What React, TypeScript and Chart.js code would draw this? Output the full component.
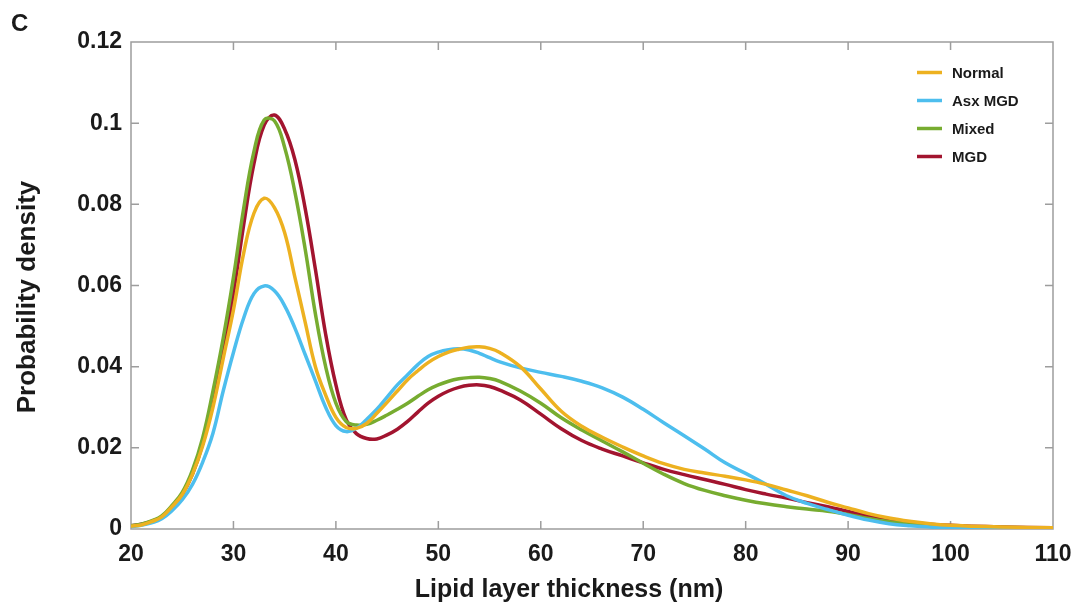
import { useEffect, useRef } from "react";
import { Chart, registerables } from "chart.js";

Chart.register(...registerables);

const xValues = [
  20, 21, 22, 23, 24, 25, 26, 27, 28, 29, 30, 31, 32, 33, 34, 35, 36, 37, 38, 39, 40,
  41, 42, 43, 44, 45, 46, 47, 48, 49, 50, 51, 52, 53, 54, 55, 56,
  58, 60, 62, 64, 66, 68, 70, 72, 74, 76, 78, 80, 82, 84, 86, 88, 90,
  92, 94, 96, 98, 100, 102, 105, 110,
];

const normal = [
  0.0007, 0.001, 0.0018, 0.003, 0.0055, 0.0085, 0.0135, 0.0205, 0.03, 0.042, 0.054, 0.068, 0.0778, 0.0815, 0.0792, 0.073, 0.062, 0.051, 0.04, 0.033, 0.0275,
  0.025, 0.0248, 0.026, 0.0285, 0.0312, 0.034, 0.0368, 0.039, 0.041, 0.0425, 0.0436, 0.0443, 0.0448, 0.0449, 0.0445, 0.0435,
  0.04, 0.0345, 0.029, 0.0253, 0.0226, 0.0202, 0.018, 0.0161, 0.0147, 0.0138, 0.013, 0.0121, 0.011, 0.0096, 0.0082, 0.0066, 0.0052,
  0.0038, 0.0027, 0.0019, 0.0013, 0.0009, 0.0007, 0.0005, 0.0003,
];

const asxMgd = [
  0.0006, 0.0009, 0.0015, 0.0025, 0.0045, 0.0072, 0.011, 0.0165, 0.0236, 0.034, 0.0435, 0.052, 0.058, 0.0599, 0.0587, 0.055, 0.0495, 0.043, 0.0365, 0.03, 0.0255,
  0.024, 0.0248, 0.027, 0.0295, 0.0325, 0.0355, 0.038, 0.0405, 0.0425, 0.0436, 0.0442, 0.0444, 0.0441, 0.0433, 0.0422, 0.0412,
  0.0397, 0.0386, 0.0376, 0.0364, 0.0348, 0.0325, 0.0295, 0.0262, 0.023, 0.0197, 0.0163, 0.0137, 0.011, 0.0082, 0.0063, 0.0048, 0.0034,
  0.0022, 0.0013, 0.0008, 0.0005, 0.0003, 0.0002, 0.0002, 0.0001,
];

const mixed = [
  0.0008, 0.0012, 0.002, 0.0032, 0.0058, 0.009, 0.0145, 0.0225, 0.034, 0.047, 0.062, 0.079, 0.093, 0.1008, 0.1006, 0.094, 0.083, 0.069, 0.053, 0.04, 0.031,
  0.0265, 0.0256, 0.0258, 0.0268, 0.0281, 0.0295, 0.031, 0.0327, 0.0343, 0.0355, 0.0364, 0.037, 0.0373, 0.0374, 0.0371, 0.0364,
  0.034, 0.031, 0.0274, 0.0244, 0.0217, 0.019, 0.0162, 0.0135, 0.0112, 0.0095, 0.0082, 0.0071, 0.0062, 0.0055, 0.0049, 0.0044, 0.0036,
  0.0026, 0.0018, 0.0013, 0.0009, 0.0007, 0.0005, 0.0004, 0.0002,
];

const mgd = [
  0.0008, 0.0012, 0.0019, 0.003, 0.0055, 0.0085, 0.0135, 0.021, 0.0318, 0.044, 0.058, 0.075, 0.09, 0.0995, 0.102, 0.0985, 0.091, 0.079, 0.064, 0.048, 0.0355,
  0.027, 0.0235, 0.0223, 0.0222, 0.0232, 0.0246, 0.0265, 0.0288, 0.031, 0.0327, 0.034, 0.0349, 0.0354, 0.0355, 0.0351, 0.0342,
  0.0318, 0.0283, 0.0247, 0.0218, 0.0197, 0.018, 0.0163, 0.0147, 0.0134, 0.0122, 0.011, 0.0097, 0.0086, 0.0076, 0.0065, 0.0055, 0.0043,
  0.0032, 0.0023, 0.0016, 0.0012, 0.0009, 0.0007, 0.0005, 0.0003,
];

const seriesLabels = ["Normal", "Asx MGD", "Mixed", "MGD"];
const seriesColors = ["#EDB120", "#4DBEEE", "#77AC30", "#A2142F"];
const seriesValues = [normal, asxMgd, mixed, mgd];

const xTickValues = [20, 30, 40, 50, 60, 70, 80, 90, 100, 110];
const yTickValues = [0, 0.02, 0.04, 0.06, 0.08, 0.1, 0.12];
const yTickLabels = ["0", "0.02", "0.04", "0.06", "0.08", "0.1", "0.12"];

const panelLabel = "C";
const xTitle = "Lipid layer thickness (nm)";
const yTitle = "Probability density";

const FONT = "'Liberation Sans', Arial, sans-serif";
const FRAME = "#9d9d9d";
const TEXT = "#1a1a1a";

const framePlugin = {
  id: "frame",
  beforeDatasetsDraw(chart: any) {
    const { ctx, chartArea: a, scales } = chart;
    ctx.save();
    ctx.strokeStyle = FRAME;
    ctx.lineWidth = 1.5;
    ctx.strokeRect(a.left, a.top, a.right - a.left, a.bottom - a.top);
    const L = 8;
    ctx.beginPath();
    xTickValues.forEach((v) => {
      const px = scales.x.getPixelForValue(v);
      if (px <= a.left + 1 || px >= a.right - 1) return;
      ctx.moveTo(px, a.bottom);
      ctx.lineTo(px, a.bottom - L);
      ctx.moveTo(px, a.top);
      ctx.lineTo(px, a.top + L);
    });
    yTickValues.forEach((v) => {
      const py = scales.y.getPixelForValue(v);
      if (py <= a.top + 1 || py >= a.bottom - 1) return;
      ctx.moveTo(a.left, py);
      ctx.lineTo(a.left + L, py);
      ctx.moveTo(a.right, py);
      ctx.lineTo(a.right - L, py);
    });
    ctx.stroke();
    ctx.restore();
  },
  afterDraw(chart: any) {
    const { ctx, chartArea: a } = chart;
    ctx.save();
    ctx.fillStyle = TEXT;
    // panel label
    ctx.font = `bold 24px ${FONT}`;
    ctx.textAlign = "left";
    ctx.textBaseline = "middle";
    ctx.fillText(panelLabel, 11, 24);
    // axis titles
    ctx.font = `bold 25px ${FONT}`;
    ctx.textAlign = "center";
    ctx.fillText(xTitle, 569, 590);
    ctx.save();
    ctx.translate(28, 297);
    ctx.rotate(-Math.PI / 2);
    ctx.font = `bold 26px ${FONT}`;
    ctx.fillText(yTitle, 0, 0);
    ctx.restore();
    // legend
    ctx.textAlign = "left";
    ctx.font = `bold 15px ${FONT}`;
    chart.data.datasets.forEach((ds: any, i: number) => {
      const y = a.top + 30.5 + i * 28;
      const x0 = a.right - 136;
      ctx.strokeStyle = ds.borderColor;
      ctx.lineWidth = 3.5;
      ctx.beginPath();
      ctx.moveTo(x0, y);
      ctx.lineTo(x0 + 25, y);
      ctx.stroke();
      ctx.fillStyle = TEXT;
      ctx.fillText(ds.label, x0 + 35, y + 1);
    });
    ctx.restore();
  },
};

export default function App() {
  const ref = useRef<HTMLCanvasElement | null>(null);

  useEffect(() => {
    if (!ref.current) return;
    const chart = new Chart(ref.current, {
      type: "line",
      data: {
        datasets: seriesLabels.map((label, s) => ({
          label,
          data: xValues.map((x, i) => ({ x, y: seriesValues[s][i] })),
          borderColor: seriesColors[s],
          backgroundColor: seriesColors[s],
          borderWidth: 3.5,
          pointRadius: 0,
          tension: 0.4,
          fill: false,
        })),
      },
      options: {
        responsive: false,
        animation: false,
        layout: { padding: { top: 42, right: 32, left: 0, bottom: 0 } },
        plugins: {
          legend: { display: false },
          tooltip: { enabled: false },
          title: { display: false },
        },
        scales: {
          x: {
            type: "linear",
            min: 20,
            max: 110,
            afterFit: (scale: any) => {
              scale.height = 79;
            },
            afterBuildTicks: (scale: any) => {
              scale.ticks = xTickValues.map((v) => ({ value: v }));
            },
            grid: { display: false, drawTicks: false },
            border: { display: false },
            ticks: {
              padding: 12,
              color: TEXT,
              font: { family: FONT, size: 23, weight: "bold" },
              maxRotation: 0,
              callback: (v: any) => String(v),
            },
            title: { display: false },
          },
          y: {
            type: "linear",
            min: 0,
            max: 0.12,
            afterFit: (scale: any) => {
              scale.width = 131;
            },
            afterBuildTicks: (scale: any) => {
              scale.ticks = yTickValues.map((v) => ({ value: v }));
            },
            grid: { display: false, drawTicks: false },
            border: { display: false },
            ticks: {
              padding: 9,
              color: TEXT,
              font: { family: FONT, size: 23, weight: "bold" },
              callback: (_v: any, i: number) => yTickLabels[i],
            },
            title: { display: false },
          },
        },
      },
      plugins: [framePlugin],
    });
    return () => chart.destroy();
  }, []);

  return (
    <div style={{ position: "absolute", left: 0, top: 0, width: 1085, height: 608, background: "#fff" }}>
      <canvas ref={ref} width={1085} height={608} style={{ display: "block" }} />
    </div>
  );
}
